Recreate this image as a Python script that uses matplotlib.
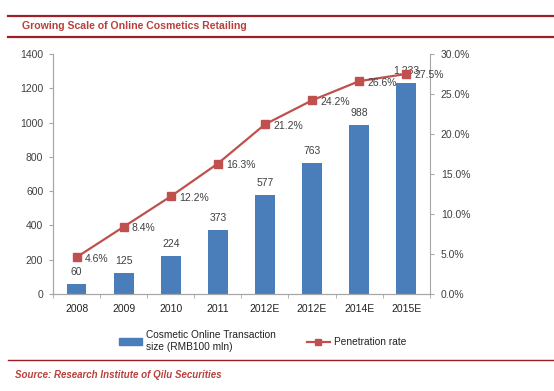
import matplotlib.pyplot as plt
import matplotlib.lines as mlines
import matplotlib.patches as mpatches
import numpy as np

years = ['2008', '2009', '2010', '2011', '2012E', '2012E', '2014E', '2015E']
sizes = [60, 125, 224, 373, 577, 763, 988, 1233]
size_labels = ['60', '125', '224', '373', '577', '763', '988', '1,233']
rates = [4.6, 8.4, 12.2, 16.3, 21.2, 24.2, 26.6, 27.5]

blue = '#4a7ebb'
red = '#c0504d'
dark_red = '#9e1f24'
title_red = '#b8403c'
grey = '#a6a6a6'
txt = '#404040'

plt.rcParams['font.family'] = ['Liberation Sans', 'DejaVu Sans']

fig = plt.figure(figsize=(5.54, 3.91), dpi=100)
ax = fig.add_axes([0.0957, 0.248, 0.680, 0.614])
ax2 = ax.twinx()

x = np.arange(len(years))
ax.bar(x, sizes, width=0.42, color=blue, zorder=2)
ax.set_xlim(-0.5, len(years) - 0.5)
ax.set_ylim(0, 1400)
ax.set_yticks(range(0, 1401, 200))
ax.set_xticks(x)
ax.set_xticklabels(years)
ax.set_xticks(np.arange(-0.5, len(years), 1), minor=True)
ax.tick_params(axis='x', which='major', length=0, pad=7, labelsize=7.5, labelcolor='#222222')
ax.tick_params(axis='x', which='minor', length=3, color=grey)
ax.tick_params(axis='y', length=3, color=grey, labelsize=7.5, labelcolor=txt, pad=4)

for xi, s, lab in zip(x, sizes, size_labels):
    ax.annotate(lab, (xi, s), xytext=(0, 5), textcoords='offset points',
                ha='center', va='bottom', fontsize=7.5, color=txt)

ax2.plot(x, rates, color=red, lw=1.6, marker='s', ms=6, zorder=3)
ax2.set_ylim(0, 30)
ax2.set_yticks(np.arange(0, 30.1, 5))
ax2.set_yticklabels(['%.1f%%' % v for v in np.arange(0, 30.1, 5)])
ax2.tick_params(axis='y', length=3, color=grey, labelsize=7.5, labelcolor=txt, pad=5)
for xi, r in zip(x, rates):
    ax2.annotate('%.1f%%' % r, (xi, r), xytext=(6, -1), textcoords='offset points',
                 ha='left', va='center', fontsize=7.5, color=txt)

for a in (ax, ax2):
    a.spines['top'].set_visible(False)
    for s in ('left', 'right', 'bottom'):
        a.spines[s].set_color(grey)
ax.spines['right'].set_visible(False)

# legend
h1 = mpatches.Patch(color=blue)
h2 = mlines.Line2D([], [], color=red, lw=1.6, marker='s', ms=5)
fig.legend([h1, h2], ['Cosmetic Online Transaction\nsize (RMB100 mln)', 'Penetration rate'],
           loc='upper left', bbox_to_anchor=(0.215, 0.155), ncol=2, frameon=False,
           fontsize=7.3, handlelength=2.3, handleheight=0.6, columnspacing=3.0,
           handletextpad=0.4, labelcolor='#222222', borderpad=0, borderaxespad=0)

# header and footer
fig.add_artist(mlines.Line2D([0.015, 1.0], [0.960, 0.960], color=dark_red, lw=1.6))
fig.add_artist(mlines.Line2D([0.015, 1.0], [0.906, 0.906], color=dark_red, lw=1.6))
fig.text(0.04, 0.934, 'Growing Scale of Online Cosmetics Retailing', fontsize=7.6,
         fontweight='bold', color=title_red, va='center')
fig.add_artist(mlines.Line2D([0.015, 1.0], [0.079, 0.079], color=dark_red, lw=1))
fig.text(0.027, 0.040, 'Source: Research Institute of Qilu Securities', fontsize=7,
         fontweight='bold', style='italic', color=title_red, va='center')

fig.savefig('out.png', dpi=100)
